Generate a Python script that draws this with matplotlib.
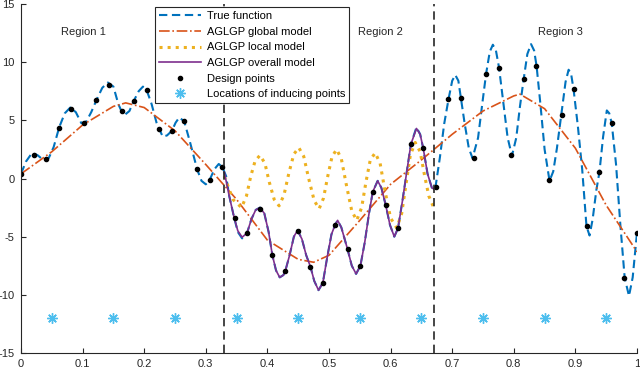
import matplotlib
matplotlib.use("Agg")
import matplotlib.pyplot as plt

plt.rcParams['font.family'] = ['Liberation Sans', 'DejaVu Sans']
plt.rcParams['axes.unicode_minus'] = False

# true function
true_x = [0.000, 0.008, 0.018, 0.027, 0.036, 0.045, 0.053, 0.062, 0.071, 0.080,
          0.089, 0.098, 0.106, 0.114, 0.123, 0.132, 0.141, 0.150, 0.158, 0.163,
          0.169, 0.176, 0.183, 0.191, 0.198, 0.204, 0.212, 0.220, 0.225, 0.230,
          0.237, 0.245, 0.251, 0.257, 0.265, 0.274, 0.286, 0.293, 0.300, 0.306,
          0.314, 0.321, 0.327, 0.333, 0.338, 0.346, 0.352, 0.359, 0.367, 0.374,
          0.381, 0.388, 0.395, 0.402, 0.408, 0.414, 0.420, 0.426, 0.429, 0.436,
          0.443, 0.449, 0.456, 0.463, 0.470, 0.476, 0.483, 0.490, 0.497, 0.504,
          0.510, 0.514, 0.520, 0.530, 0.537, 0.544, 0.551, 0.558, 0.565, 0.571,
          0.579, 0.585, 0.592, 0.599, 0.606, 0.612, 0.619, 0.626, 0.633, 0.642,
          0.648, 0.653, 0.660, 0.667, 0.671, 0.673, 0.680, 0.687, 0.694, 0.700,
          0.705, 0.710, 0.714, 0.720, 0.727, 0.733, 0.742, 0.749, 0.755, 0.761,
          0.766, 0.771, 0.776, 0.783, 0.790, 0.797, 0.804, 0.810, 0.816, 0.822,
          0.828, 0.833, 0.837, 0.843, 0.850, 0.858, 0.864, 0.870, 0.877, 0.884,
          0.889, 0.893, 0.897, 0.904, 0.911, 0.918, 0.923, 0.928, 0.934, 0.939,
          0.945, 0.951, 0.955, 0.959, 0.966, 0.973, 0.980, 0.987, 0.993, 1.000]
true_y = [0.40, 1.45, 2.20, 2.00, 1.60, 1.75, 2.70, 4.40, 5.60, 6.10,
          5.70, 4.75, 4.90, 5.70, 6.80, 7.80, 8.25, 7.90, 6.40, 5.80,
          5.50, 5.80, 6.66, 7.50, 7.90, 7.60, 6.40, 4.80, 4.20, 3.60,
          3.70, 4.10, 4.80, 5.25, 4.90, 3.20, 0.78, -0.20, -0.50, -0.15,
          0.80, 1.25, 0.97, 0.20, -1.50, -3.36, -4.60, -5.15, -4.68, -3.50,
          -2.70, -2.50, -3.00, -4.60, -6.58, -7.90, -8.50, -8.30, -7.96, -6.60,
          -5.00, -4.45, -5.20, -6.60, -7.60, -8.80, -9.60, -8.97, -6.80, -4.80,
          -3.97, -3.60, -4.20, -6.06, -7.50, -8.20, -7.50, -5.50, -3.00, -1.15,
          -0.20, -0.80, -2.27, -4.00, -5.00, -4.28, -2.00, 0.50, 2.96, 4.40,
          3.80, 2.59, 0.40, -0.80, -0.95, -0.69, 1.80, 4.70, 6.81, 8.40,
          8.90, 8.40, 6.96, 4.80, 2.60, 1.75, 3.50, 6.50, 8.99, 10.90,
          11.50, 11.00, 9.54, 6.50, 3.50, 1.95, 3.50, 6.20, 8.53, 10.70,
          11.55, 11.00, 9.66, 6.50, 2.50, -0.20, 0.60, 2.60, 5.43, 8.30,
          9.35, 9.00, 7.67, 4.50, 0.80, -4.11, -4.90, -3.50, -1.00, 0.54,
          3.60, 5.85, 5.60, 4.74, 1.20, -4.00, -8.53, -10.10, -8.50, -4.66]

# AGLGP global model (orange dash-dot)
glob_x = [0.00, 0.05, 0.10, 0.15, 0.17, 0.20, 0.25, 0.30, 0.35, 0.40, 0.45, 0.475,
          0.50, 0.55, 0.60, 0.65, 0.70, 0.75, 0.80, 0.81, 0.85, 0.90, 0.95, 1.00]
glob_y = [0.4, 2.3, 4.6, 6.2, 6.5, 6.1, 4.1, 1.2, -1.8, -5.3, -6.95, -7.2,
          -6.6, -3.6, -0.5, 1.6, 3.8, 5.8, 7.1, 7.25, 6.0, 2.6, -2.3, -6.3]

# AGLGP local model (yellow dotted), region 2 only
loc_x = [0.330, 0.344, 0.358, 0.366, 0.373, 0.380, 0.388, 0.396, 0.403, 0.411,
         0.419, 0.427, 0.435, 0.443, 0.451, 0.459, 0.467, 0.476, 0.484, 0.491,
         0.498, 0.505, 0.5125, 0.520, 0.528, 0.537, 0.545, 0.553, 0.560, 0.567,
         0.575, 0.583, 0.591, 0.600, 0.610, 0.618, 0.625, 0.632, 0.640, 0.648,
         0.655, 0.662, 0.670]
loc_y = [0.2, -1.8, -2.5, -1.5, 0.2, 1.5, 2.0, 1.3, -0.3, -1.8,
         -2.35, -1.4, 0.5, 2.1, 2.65, 1.9, 0.0, -1.9, -2.6, -1.7,
         0.2, 1.9, 2.5, 1.7, -0.5, -2.8, -3.6, -2.5, -0.3, 1.6,
         2.2, 1.3, -1.1, -3.4, -4.25, -3.0, -0.5, 2.0, 3.1, 2.3,
         0.3, -1.5, -2.5]

# AGLGP overall model (purple), region 2 only
all_x = [0.330, 0.338, 0.346, 0.352, 0.359, 0.367, 0.374, 0.381, 0.388, 0.395,
         0.402, 0.408, 0.414, 0.420, 0.426, 0.429, 0.436, 0.443, 0.449, 0.456,
         0.463, 0.470, 0.476, 0.483, 0.490, 0.497, 0.504, 0.510, 0.514, 0.520,
         0.530, 0.537, 0.544, 0.551, 0.558, 0.565, 0.571, 0.579, 0.585, 0.592,
         0.599, 0.606, 0.612, 0.619, 0.626, 0.633, 0.642, 0.648, 0.653, 0.660,
         0.667, 0.670]
all_y = [0.55, -1.50, -3.36, -4.50, -5.05, -4.68, -3.50, -2.70, -2.50, -3.00,
         -4.60, -6.58, -7.90, -8.50, -8.30, -7.96, -6.60, -5.00, -4.45, -5.20,
         -6.60, -7.60, -8.80, -9.60, -8.97, -6.80, -4.80, -3.97, -3.60, -4.20,
         -6.06, -7.50, -8.20, -7.50, -5.50, -3.00, -1.15, -0.20, -0.80, -2.27,
         -4.00, -5.00, -4.28, -2.00, 0.50, 2.96, 4.30, 3.80, 2.59, 0.40,
         -0.80, -0.90]

# design points (50, evenly spaced)
design_x = [i / 49 for i in range(50)]
design_y = [0.40, 2.04, 1.66, 4.33, 5.97, 4.80, 6.72, 8.02, 5.78, 6.66,
            7.59, 4.28, 4.08, 4.91, 0.78, -0.15, 0.97, -3.36, -4.68, -2.59,
            -6.58, -7.96, -4.48, -7.60, -8.97, -3.97, -6.06, -7.50, -1.15, -2.27,
            -4.28, 2.96, 2.59, -0.69, 6.81, 6.96, 1.75, 8.99, 9.54, 2.04,
            8.53, 9.66, -0.11, 5.43, 7.67, -4.11, 0.54, 4.74, -8.53, -4.66]

inducing_x = [0.05, 0.15, 0.25, 0.35, 0.45, 0.55, 0.65, 0.75, 0.85, 0.95]
inducing_y = [-12] * 10

region_bounds = [0.33, 0.67]
region_labels = ['Region 1', 'Region 2', 'Region 3']
region_label_x = [0.102, 0.583, 0.876]

fig = plt.figure(figsize=(6.4, 3.71), dpi=100)
ax = fig.add_axes([21 / 640, 18 / 371, 616 / 640, 349 / 371])

ax.plot(true_x, true_y, color='#0072BD', lw=1.5, dashes=(4, 2.2), label='True function')
ax.plot(glob_x, glob_y, color='#D95319', lw=1.2, linestyle='-.', label='AGLGP global model')
ax.plot(loc_x, loc_y, color='#EDB120', lw=2.2, linestyle=':', label='AGLGP local model')
ax.plot(all_x, all_y, color='#7E2F8E', lw=1.2, label='AGLGP overall model')
ax.plot(design_x, design_y, 'k.', ms=6, linestyle='none', label='Design points')
ax.plot(inducing_x, inducing_y, marker=(8, 2, 0), color='#4DBEEE', ms=7.5, mew=1.0,
        linestyle='none', label='Locations of inducing points')

for xb in region_bounds:
    ax.axvline(xb, color='#262626', lw=1.2, dashes=(5, 3))

for lab, xl in zip(region_labels, region_label_x):
    ax.text(xl, 12.6, lab, ha='center', va='center', fontsize=8, color='#262626')

ax.set_xlim(0, 1)
ax.set_ylim(-15, 15)
ax.set_xticks([i / 10 for i in range(11)])
ax.set_xticklabels(['0', '0.1', '0.2', '0.3', '0.4', '0.5', '0.6', '0.7', '0.8', '0.9', '1'])
ax.set_yticks([-15, -10, -5, 0, 5, 10, 15])
ax.tick_params(direction='in', length=3.5, width=0.8, labelsize=8, colors='#262626')
ax.tick_params(axis='x', pad=4)
ax.tick_params(axis='y', pad=4.5)
ax.spines['top'].set_visible(False)
ax.spines['right'].set_visible(False)
for s in ['left', 'bottom']:
    ax.spines[s].set_color('#262626')
    ax.spines[s].set_linewidth(0.8)

leg = ax.legend(loc='upper left', bbox_to_anchor=(0.2175, 0.99), fontsize=8,
                frameon=True, fancybox=False, framealpha=1, edgecolor='#262626',
                handlelength=3.8, labelspacing=0.5, borderpad=0.35,
                handletextpad=0.5, borderaxespad=0)
leg.get_frame().set_linewidth(0.8)

fig.savefig('out.png', dpi=100)
